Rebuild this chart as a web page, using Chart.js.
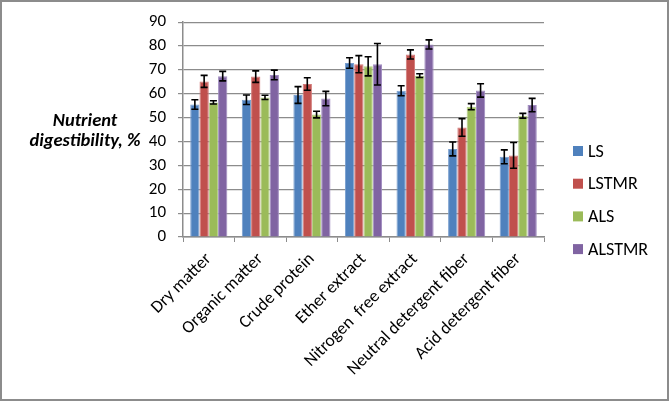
<!DOCTYPE html>
<html>
<head>
<meta charset="utf-8">
<script src="https://cdn.jsdelivr.net/npm/chart.js@4.4.1/dist/chart.umd.min.js"></script>
<style>
  body { margin: 0; background: #fff; }
  #wrap { width: 670px; height: 402px; position: relative; }
</style>
</head>
<body>
<div id="wrap"><canvas id="chart" width="670" height="402"></canvas></div>
<script>
// categories and series
const categories = ["Dry matter", "Organic matter", "Crude protein", "Ether extract",
    "Nitrogen  free extract", "Neutral detergent fiber", "Acid detergent fiber"];
const seriesNames = ["LS", "LSTMR", "ALS", "ALSTMR"];
const seriesColors = ["#4F81BD", "#C0504D", "#9BBB59", "#8064A2"];
const seriesEdges = ["#7a9fcf", "#d27a78", "#b5cf85", "#a08cc0"];

const lsValues     = [55.5, 57.5, 59.5, 72.9, 61.3, 36.9, 33.6];
const lstmrValues  = [65.2, 67.2, 64.1, 72.4, 76.5, 45.9, 34.2];
const alsValues    = [56.4, 58.5, 51.3, 71.5, 67.6, 54.6, 50.8];
const alstmrValues = [67.4, 67.9, 58.0, 72.4, 80.7, 61.4, 55.3];

// error bar half widths
const lsErr     = [2.0, 2.0, 3.5, 2.2, 2.1, 2.9, 2.9];
const lstmrErr  = [2.5, 2.4, 2.6, 3.6, 1.9, 3.7, 5.4];
const alsErr    = [0.7, 0.9, 1.4, 4.0, 0.8, 1.3, 1.0];
const alstmrErr = [2.0, 2.0, 3.0, 8.7, 1.9, 2.8, 2.8];

const yTicks = [0, 10, 20, 30, 40, 50, 60, 70, 80, 90];

const allValues = [lsValues, lstmrValues, alsValues, alstmrValues];
const allErrors = [lsErr, lstmrErr, alsErr, alstmrErr];

const fontFamily = "Carlito, Calibri, Lato, sans-serif";

// error bars on top of the bars
const errorBars = {
    id: 'errorBars',
    afterDatasetsDraw(chart) {
        const ctx = chart.ctx;
        const y = chart.scales.y;
        ctx.save();
        ctx.strokeStyle = '#000';
        ctx.lineWidth = 1.6;
        chart.data.datasets.forEach((ds, i) => {
            const meta = chart.getDatasetMeta(i);
            meta.data.forEach((bar, j) => {
                const v = ds.data[j];
                const e = ds.errors[j];
                const top = y.getPixelForValue(v + e);
                const bot = y.getPixelForValue(v - e);
                const cap = 3.5;
                ctx.beginPath();
                ctx.moveTo(bar.x, top);
                ctx.lineTo(bar.x, bot);
                ctx.moveTo(bar.x - cap, top);
                ctx.lineTo(bar.x + cap, top);
                ctx.moveTo(bar.x - cap, bot);
                ctx.lineTo(bar.x + cap, bot);
                ctx.stroke();
            });
        });
        ctx.restore();
    }
};

// axis title, legend and the chart frame
const extras = {
    id: 'extras',
    afterDraw(chart) {
        const ctx = chart.ctx;
        ctx.save();
        ctx.fillStyle = '#000';
        ctx.font = "italic bold 18.5px " + fontFamily;
        ctx.textAlign = 'center';
        ctx.textBaseline = 'middle';
        ctx.fillText("Nutrient", 85, 121);
        ctx.fillText("digestibility, %", 85, 141);

        ctx.font = "18px " + fontFamily;
        ctx.textAlign = 'left';
        seriesNames.forEach((name, i) => {
            const cy = 151 + i * 32.7;
            ctx.fillStyle = seriesColors[i];
            ctx.fillRect(573, cy - 5, 10, 10);
            ctx.fillStyle = '#000';
            ctx.fillText(name, 588, cy + 1);
        });

        ctx.strokeStyle = '#8c8c8c';
        ctx.lineWidth = 2;
        ctx.strokeRect(1, 1, 667, 399);
        ctx.restore();
    }
};

new Chart(document.getElementById("chart"), {
    type: "bar",
    data: {
        labels: categories,
        datasets: seriesNames.map((name, i) => ({
            label: name,
            data: allValues[i],
            errors: allErrors[i],
            backgroundColor: seriesColors[i],
            borderColor: seriesEdges[i],
            borderWidth: 1,
            barPercentage: 1,
            categoryPercentage: 0.72
        }))
    },
    options: {
        responsive: false,
        animation: false,
        devicePixelRatio: 1,
        layout: { padding: { left: 130, right: 126, top: 12, bottom: 0 } },
        plugins: {
            legend: { display: false },
            tooltip: { enabled: false }
        },
        scales: {
            x: {
                grid: { drawOnChartArea: false, drawTicks: true, tickLength: 5, color: '#8c8c8c' },
                border: { color: '#8c8c8c', width: 1.5 },
                ticks: {
                    color: '#000',
                    font: { family: fontFamily, size: 17.5 },
                    minRotation: 45,
                    maxRotation: 45,
                    autoSkip: false,
                    padding: 7
                },
                afterFit(scale) { scale.height = 165; }
            },
            y: {
                min: 0,
                max: 90,
                afterBuildTicks(scale) { scale.ticks = yTicks.map(v => ({ value: v })); },
                grid: { color: '#8c8c8c', lineWidth: 1.2, tickLength: 5 },
                border: { color: '#8c8c8c', width: 1.5 },
                ticks: {
                    color: '#000',
                    font: { family: fontFamily, size: 17 },
                    padding: 12
                },
                afterFit(scale) { scale.width = 53; }
            }
        }
    },
    plugins: [errorBars, extras]
});
</script>
</body>
</html>
